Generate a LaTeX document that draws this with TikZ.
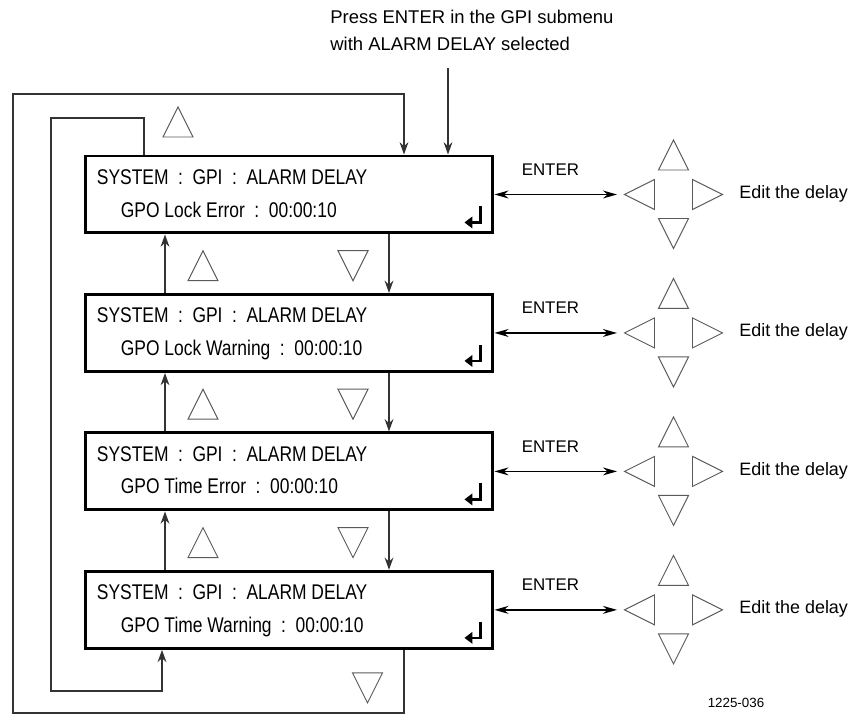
\documentclass[tikz,border=0pt]{standalone}
\usepackage{fontspec}
\setmainfont{Liberation Sans}
\newfontfamily\narrowsans{Liberation Sans}[FakeStretch=0.82]
\usepackage{tikz}
\usetikzlibrary{arrows.meta,positioning,calc}
\definecolor{linegray}{HTML}{333333}
\definecolor{trigray}{HTML}{5A5A5A}
\newcommand{\dsep}{\hspace{0.45em}:\hspace{0.45em}}

\tikzset{
  lcd/.style={draw, line width=1.7pt, minimum width=8.16cm, minimum height=1.54cm},
  lcdtext/.style={anchor=base west, font=\narrowsans\fontsize{12.1}{14}\selectfont},
  link/.style={->, line width=0.85pt, linegray},
  navtri/.style={draw=trigray, line width=0.55pt, line join=miter},
  tup/.pic={\draw[navtri] (-15,15) -- (15,15) -- (0,-15) -- cycle;},
  tdn/.pic={\draw[navtri] (-15,-15) -- (15,-15) -- (0,15) -- cycle;},
  tlt/.pic={\draw[navtri] (15,-15) -- (15,15) -- (-15,0) -- cycle;},
  trt/.pic={\draw[navtri] (-15,-15) -- (-15,15) -- (15,0) -- cycle;},
  retkey/.pic={\draw[line width=1.4pt, line join=miter, -{Triangle[length=4.5pt,width=6.5pt]}] (-14,-28) -- (-14,-12) -- (-30,-12);}
}

\begin{document}
\begin{tikzpicture}[x=0.02cm, y=-0.02cm, >={Stealth[length=7pt,width=5pt]}, node distance=1.17cm,
    every node/.style={inner sep=0pt, font=\fontsize{9.6}{11}\selectfont}]
  \useasboundingbox (0,0) rectangle (856,715);

  % the four menu screens
  \node[lcd] (gpi1) at (289,194.5) {};
  \node[lcd, below=of gpi1] (gpi2) {};
  \node[lcd, below=of gpi2] (gpi3) {};
  \node[lcd, below=of gpi3] (gpi4) {};

  \node[lcdtext] (sys1) at ($(gpi1.north west)+(13,30)$) {SYSTEM\dsep GPI\dsep ALARM DELAY};
  \node[lcdtext] (val1) at ($(gpi1.north west)+(37,62.5)$) {GPO Lock Error\dsep 00:00:10};
  \node[lcdtext] (sys2) at ($(gpi2.north west)+(13,30)$) {SYSTEM\dsep GPI\dsep ALARM DELAY};
  \node[lcdtext] (val2) at ($(gpi2.north west)+(37,62.5)$) {GPO Lock Warning\dsep 00:00:10};
  \node[lcdtext] (sys3) at ($(gpi3.north west)+(13,30)$) {SYSTEM\dsep GPI\dsep ALARM DELAY};
  \node[lcdtext] (val3) at ($(gpi3.north west)+(37,62.5)$) {GPO Time Error\dsep 00:00:10};
  \node[lcdtext] (sys4) at ($(gpi4.north west)+(13,30)$) {SYSTEM\dsep GPI\dsep ALARM DELAY};
  \node[lcdtext] (val4) at ($(gpi4.north west)+(37,62.5)$) {GPO Time Warning\dsep 00:00:10};

  \node[anchor=base west, font=\fontsize{10.5}{12}\selectfont] (press1) at (330,24) {Press ENTER in the GPI submenu};
  \node[anchor=base west, font=\fontsize{10.5}{12}\selectfont] (press2) at (330,51) {with ALARM DELAY selected};
  \node[font=\fontsize{7.6}{9}\selectfont] (fig) at (736,703) {1225-036};

  % columns of the connectors
  \coordinate (upcol) at (165,0);
  \coordinate (dncol) at (389,0);
  \coordinate (outer) at (404,713);
  \coordinate (outertop) at (13,94);
  \coordinate (innertop) at (144,118);
  \coordinate (innerbot) at (51,691);
  \coordinate (innerend) at (162,0);
  \coordinate (pin) at (448,68);
  \coordinate (enx) at (617,0);
  \coordinate (crx) at (673.5,0);

  \draw[link] (gpi2.north -| upcol) -- (gpi1.south -| upcol);
  \draw[link] (gpi3.north -| upcol) -- (gpi2.south -| upcol);
  \draw[link] (gpi4.north -| upcol) -- (gpi3.south -| upcol);
  \draw[link] (gpi1.south -| dncol) -- (gpi2.north -| dncol);
  \draw[link] (gpi2.south -| dncol) -- (gpi3.north -| dncol);
  \draw[link] (gpi3.south -| dncol) -- (gpi4.north -| dncol);
  \draw[link] (gpi4.south -| outer) -- (outer) -| (outertop) -| (gpi1.north -| outer);
  \draw[link] (gpi1.north -| innertop) -- (innertop) -| (innerbot) -| (gpi4.south -| innerend);
  \draw[link] (pin) -- (gpi1.north -| pin);

  % arrow keys between and around the screens
  \pic at ($(gpi1.north)+(-111,-32.5)$) {tup};
  \pic at ($(gpi4.south)+(78.5,38)$) {tdn};
  \pic at ($(gpi1.south)!0.5!(gpi2.north)+(-86,2)$) {tup};
  \pic at ($(gpi1.south)!0.5!(gpi2.north)+(64,2)$) {tdn};
  \pic at ($(gpi2.south)!0.5!(gpi3.north)+(-86,2)$) {tup};
  \pic at ($(gpi2.south)!0.5!(gpi3.north)+(64,2)$) {tdn};
  \pic at ($(gpi3.south)!0.5!(gpi4.north)+(-86,2)$) {tup};
  \pic at ($(gpi3.south)!0.5!(gpi4.north)+(64,2)$) {tdn};

  \foreach \i in {1,...,4} {
    \pic at (gpi\i.south east) {retkey};
    \coordinate (en\i) at (gpi\i.east -| enx);
    \coordinate (cr\i) at (gpi\i.east -| crx);
    \draw[<->, line width=0.85pt, >={Stealth[length=8pt,width=4.5pt]}] (gpi\i.east) -- (en\i);
    \node[anchor=base west] (ent\i) at ($(gpi\i.east)+(27,-19)$) {ENTER};
    \pic at ($(cr\i)+(0,-39.5)$) {tup};
    \pic at ($(cr\i)+(0,39)$) {tdn};
    \pic at ($(cr\i)+(-34,0)$) {tlt};
    \pic at ($(cr\i)+(34,0)$) {trt};
    \node[anchor=base west, font=\fontsize{10.2}{12}\selectfont] (edit\i) at ($(cr\i)+(65.5,4)$) {Edit the delay};
  }
\end{tikzpicture}
\end{document}
